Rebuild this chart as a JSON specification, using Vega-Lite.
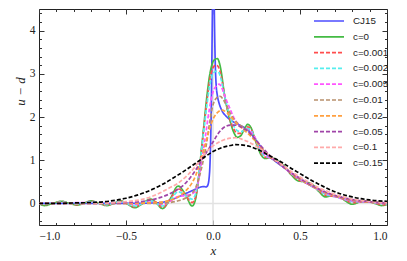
{
"$schema":"https://vega.github.io/schema/vega-lite/v6.json",
"width":348,"height":216,"autosize":"none",
"padding":{"left":39,"top":9,"right":20,"bottom":36},
"config":{"view":{"stroke":"#222","strokeWidth":1},"font":"Liberation Serif"},
"datasets":{"curves":[
{"s":"CJ15","x":-1,"y":0},{"s":"CJ15","x":-0.8,"y":0},{"s":"CJ15","x":-0.6,"y":0},{"s":"CJ15","x":-0.5,"y":0},{"s":"CJ15","x":-0.4,"y":0.005},{"s":"CJ15","x":-0.35,"y":0.01},{"s":"CJ15","x":-0.3,"y":0.02},{"s":"CJ15","x":-0.25,"y":0.07},{"s":"CJ15","x":-0.2,"y":0.15},{"s":"CJ15","x":-0.15,"y":0.24},{"s":"CJ15","x":-0.1,"y":0.33},{"s":"CJ15","x":-0.07,"y":0.38},{"s":"CJ15","x":-0.05,"y":0.39},{"s":"CJ15","x":-0.04,"y":0.38},{"s":"CJ15","x":-0.03,"y":0.42},{"s":"CJ15","x":-0.02,"y":0.7},{"s":"CJ15","x":-0.015,"y":1.2},{"s":"CJ15","x":-0.01,"y":2.2},{"s":"CJ15","x":-0.006,"y":3.5},{"s":"CJ15","x":-0.003,"y":4.6},{"s":"CJ15","x":0.002,"y":5.5},{"s":"CJ15","x":0.007,"y":4.6},{"s":"CJ15","x":0.01,"y":3.8},{"s":"CJ15","x":0.014,"y":3.1},{"s":"CJ15","x":0.018,"y":2.75},{"s":"CJ15","x":0.025,"y":2.5},{"s":"CJ15","x":0.035,"y":2.32},{"s":"CJ15","x":0.05,"y":2.16},{"s":"CJ15","x":0.08,"y":2.0},{"s":"CJ15","x":0.1,"y":1.93},{"s":"CJ15","x":0.15,"y":1.82},{"s":"CJ15","x":0.2,"y":1.7},{"s":"CJ15","x":0.25,"y":1.45},{"s":"CJ15","x":0.3,"y":1.17},{"s":"CJ15","x":0.35,"y":1.0},{"s":"CJ15","x":0.4,"y":0.85},{"s":"CJ15","x":0.45,"y":0.7},{"s":"CJ15","x":0.5,"y":0.56},{"s":"CJ15","x":0.55,"y":0.44},{"s":"CJ15","x":0.6,"y":0.33},{"s":"CJ15","x":0.65,"y":0.24},{"s":"CJ15","x":0.7,"y":0.16},{"s":"CJ15","x":0.75,"y":0.11},{"s":"CJ15","x":0.8,"y":0.07},{"s":"CJ15","x":0.85,"y":0.04},{"s":"CJ15","x":0.9,"y":0.03},{"s":"CJ15","x":0.95,"y":0.02},{"s":"CJ15","x":1,"y":0.01},

{"s":"c=0","x":-1,"y":0},{"s":"c=0","x":-0.97,"y":-0.05},{"s":"c=0","x":-0.92,"y":0},{"s":"c=0","x":-0.87,"y":0.05},{"s":"c=0","x":-0.83,"y":0.01},{"s":"c=0","x":-0.78,"y":-0.04},{"s":"c=0","x":-0.74,"y":0.01},{"s":"c=0","x":-0.7,"y":0.06},{"s":"c=0","x":-0.66,"y":0.01},{"s":"c=0","x":-0.61,"y":-0.05},{"s":"c=0","x":-0.57,"y":0},{"s":"c=0","x":-0.53,"y":0.06},{"s":"c=0","x":-0.49,"y":-0.02},{"s":"c=0","x":-0.45,"y":-0.1},{"s":"c=0","x":-0.41,"y":-0.02},{"s":"c=0","x":-0.36,"y":0.1},{"s":"c=0","x":-0.33,"y":0.03},{"s":"c=0","x":-0.29,"y":-0.12},{"s":"c=0","x":-0.25,"y":0.08},{"s":"c=0","x":-0.2,"y":0.4},{"s":"c=0","x":-0.16,"y":0.22},{"s":"c=0","x":-0.12,"y":-0.06},{"s":"c=0","x":-0.1,"y":0.1},{"s":"c=0","x":-0.09,"y":0.35},{"s":"c=0","x":-0.08,"y":0.7},{"s":"c=0","x":-0.07,"y":1.1},{"s":"c=0","x":-0.06,"y":1.5},{"s":"c=0","x":-0.05,"y":1.9},{"s":"c=0","x":-0.04,"y":2.3},{"s":"c=0","x":-0.03,"y":2.65},{"s":"c=0","x":-0.02,"y":2.95},{"s":"c=0","x":-0.01,"y":3.15},{"s":"c=0","x":0,"y":3.28},{"s":"c=0","x":0.015,"y":3.34},{"s":"c=0","x":0.025,"y":3.35},{"s":"c=0","x":0.04,"y":3.2},{"s":"c=0","x":0.05,"y":2.98},{"s":"c=0","x":0.06,"y":2.68},{"s":"c=0","x":0.07,"y":2.42},{"s":"c=0","x":0.08,"y":2.22},{"s":"c=0","x":0.1,"y":1.88},{"s":"c=0","x":0.12,"y":1.64},{"s":"c=0","x":0.14,"y":1.53},{"s":"c=0","x":0.16,"y":1.57},{"s":"c=0","x":0.18,"y":1.72},{"s":"c=0","x":0.2,"y":1.83},{"s":"c=0","x":0.22,"y":1.74},{"s":"c=0","x":0.24,"y":1.5},{"s":"c=0","x":0.26,"y":1.27},{"s":"c=0","x":0.28,"y":1.1},{"s":"c=0","x":0.3,"y":1.04},{"s":"c=0","x":0.33,"y":1.06},{"s":"c=0","x":0.36,"y":1.02},{"s":"c=0","x":0.4,"y":0.9},{"s":"c=0","x":0.45,"y":0.66},{"s":"c=0","x":0.49,"y":0.52},{"s":"c=0","x":0.53,"y":0.5},{"s":"c=0","x":0.57,"y":0.44},{"s":"c=0","x":0.61,"y":0.27},{"s":"c=0","x":0.645,"y":0.15},{"s":"c=0","x":0.68,"y":0.17},{"s":"c=0","x":0.72,"y":0.17},{"s":"c=0","x":0.76,"y":0.06},{"s":"c=0","x":0.8,"y":-0.02},{"s":"c=0","x":0.84,"y":0.03},{"s":"c=0","x":0.88,"y":0.06},{"s":"c=0","x":0.93,"y":0},{"s":"c=0","x":0.97,"y":-0.05},{"s":"c=0","x":1,"y":-0.03},

{"s":"c=0.001","x":-1,"y":0},{"s":"c=0.001","x":-0.97,"y":-0.03},{"s":"c=0.001","x":-0.92,"y":0},{"s":"c=0.001","x":-0.87,"y":0.04},{"s":"c=0.001","x":-0.83,"y":0.01},{"s":"c=0.001","x":-0.78,"y":-0.03},{"s":"c=0.001","x":-0.74,"y":0.01},{"s":"c=0.001","x":-0.7,"y":0.05},{"s":"c=0.001","x":-0.66,"y":0.01},{"s":"c=0.001","x":-0.61,"y":-0.04},{"s":"c=0.001","x":-0.57,"y":0},{"s":"c=0.001","x":-0.53,"y":0.05},{"s":"c=0.001","x":-0.49,"y":-0.01},{"s":"c=0.001","x":-0.45,"y":-0.08},{"s":"c=0.001","x":-0.41,"y":-0.01},{"s":"c=0.001","x":-0.36,"y":0.08},{"s":"c=0.001","x":-0.33,"y":0.03},{"s":"c=0.001","x":-0.29,"y":-0.09},{"s":"c=0.001","x":-0.25,"y":0.07},{"s":"c=0.001","x":-0.2,"y":0.34},{"s":"c=0.001","x":-0.16,"y":0.2},{"s":"c=0.001","x":-0.12,"y":0.02},{"s":"c=0.001","x":-0.1,"y":0.15},{"s":"c=0.001","x":-0.09,"y":0.38},{"s":"c=0.001","x":-0.08,"y":0.7},{"s":"c=0.001","x":-0.07,"y":1.08},{"s":"c=0.001","x":-0.06,"y":1.46},{"s":"c=0.001","x":-0.05,"y":1.83},{"s":"c=0.001","x":-0.04,"y":2.2},{"s":"c=0.001","x":-0.03,"y":2.53},{"s":"c=0.001","x":-0.02,"y":2.82},{"s":"c=0.001","x":-0.01,"y":3.02},{"s":"c=0.001","x":0,"y":3.14},{"s":"c=0.001","x":0.015,"y":3.2},{"s":"c=0.001","x":0.025,"y":3.19},{"s":"c=0.001","x":0.04,"y":3.06},{"s":"c=0.001","x":0.05,"y":2.88},{"s":"c=0.001","x":0.06,"y":2.64},{"s":"c=0.001","x":0.07,"y":2.42},{"s":"c=0.001","x":0.08,"y":2.23},{"s":"c=0.001","x":0.1,"y":1.92},{"s":"c=0.001","x":0.12,"y":1.72},{"s":"c=0.001","x":0.14,"y":1.62},{"s":"c=0.001","x":0.16,"y":1.62},{"s":"c=0.001","x":0.18,"y":1.7},{"s":"c=0.001","x":0.2,"y":1.77},{"s":"c=0.001","x":0.22,"y":1.71},{"s":"c=0.001","x":0.24,"y":1.52},{"s":"c=0.001","x":0.26,"y":1.3},{"s":"c=0.001","x":0.28,"y":1.14},{"s":"c=0.001","x":0.3,"y":1.07},{"s":"c=0.001","x":0.33,"y":1.05},{"s":"c=0.001","x":0.36,"y":1.0},{"s":"c=0.001","x":0.4,"y":0.88},{"s":"c=0.001","x":0.45,"y":0.68},{"s":"c=0.001","x":0.49,"y":0.55},{"s":"c=0.001","x":0.53,"y":0.48},{"s":"c=0.001","x":0.57,"y":0.42},{"s":"c=0.001","x":0.61,"y":0.29},{"s":"c=0.001","x":0.645,"y":0.19},{"s":"c=0.001","x":0.68,"y":0.17},{"s":"c=0.001","x":0.72,"y":0.15},{"s":"c=0.001","x":0.76,"y":0.08},{"s":"c=0.001","x":0.8,"y":0.02},{"s":"c=0.001","x":0.84,"y":0.03},{"s":"c=0.001","x":0.88,"y":0.05},{"s":"c=0.001","x":0.93,"y":0.01},{"s":"c=0.001","x":0.97,"y":-0.03},{"s":"c=0.001","x":1,"y":-0.02},

{"s":"c=0.002","x":-1,"y":0},{"s":"c=0.002","x":-0.97,"y":-0.02},{"s":"c=0.002","x":-0.87,"y":0.03},{"s":"c=0.002","x":-0.78,"y":-0.02},{"s":"c=0.002","x":-0.7,"y":0.04},{"s":"c=0.002","x":-0.61,"y":-0.03},{"s":"c=0.002","x":-0.53,"y":0.04},{"s":"c=0.002","x":-0.45,"y":-0.06},{"s":"c=0.002","x":-0.36,"y":0.06},{"s":"c=0.002","x":-0.29,"y":-0.06},{"s":"c=0.002","x":-0.25,"y":0.05},{"s":"c=0.002","x":-0.2,"y":0.27},{"s":"c=0.002","x":-0.16,"y":0.19},{"s":"c=0.002","x":-0.12,"y":0.1},{"s":"c=0.002","x":-0.1,"y":0.22},{"s":"c=0.002","x":-0.09,"y":0.42},{"s":"c=0.002","x":-0.08,"y":0.72},{"s":"c=0.002","x":-0.07,"y":1.08},{"s":"c=0.002","x":-0.06,"y":1.44},{"s":"c=0.002","x":-0.05,"y":1.78},{"s":"c=0.002","x":-0.04,"y":2.12},{"s":"c=0.002","x":-0.03,"y":2.43},{"s":"c=0.002","x":-0.02,"y":2.7},{"s":"c=0.002","x":-0.01,"y":2.9},{"s":"c=0.002","x":0,"y":3.0},{"s":"c=0.002","x":0.02,"y":3.06},{"s":"c=0.002","x":0.03,"y":3.05},{"s":"c=0.002","x":0.045,"y":2.9},{"s":"c=0.002","x":0.06,"y":2.62},{"s":"c=0.002","x":0.07,"y":2.43},{"s":"c=0.002","x":0.08,"y":2.26},{"s":"c=0.002","x":0.1,"y":1.98},{"s":"c=0.002","x":0.12,"y":1.79},{"s":"c=0.002","x":0.14,"y":1.68},{"s":"c=0.002","x":0.16,"y":1.66},{"s":"c=0.002","x":0.18,"y":1.69},{"s":"c=0.002","x":0.2,"y":1.73},{"s":"c=0.002","x":0.22,"y":1.68},{"s":"c=0.002","x":0.24,"y":1.53},{"s":"c=0.002","x":0.26,"y":1.33},{"s":"c=0.002","x":0.28,"y":1.17},{"s":"c=0.002","x":0.3,"y":1.09},{"s":"c=0.002","x":0.33,"y":1.05},{"s":"c=0.002","x":0.36,"y":1.0},{"s":"c=0.002","x":0.4,"y":0.87},{"s":"c=0.002","x":0.45,"y":0.69},{"s":"c=0.002","x":0.5,"y":0.55},{"s":"c=0.002","x":0.55,"y":0.44},{"s":"c=0.002","x":0.6,"y":0.32},{"s":"c=0.002","x":0.645,"y":0.21},{"s":"c=0.002","x":0.7,"y":0.16},{"s":"c=0.002","x":0.75,"y":0.1},{"s":"c=0.002","x":0.8,"y":0.04},{"s":"c=0.002","x":0.88,"y":0.04},{"s":"c=0.002","x":0.95,"y":0},{"s":"c=0.002","x":1,"y":-0.01},

{"s":"c=0.005","x":-1,"y":0},{"s":"c=0.005","x":-0.87,"y":0.01},{"s":"c=0.005","x":-0.7,"y":0.02},{"s":"c=0.005","x":-0.53,"y":0.02},{"s":"c=0.005","x":-0.45,"y":-0.02},{"s":"c=0.005","x":-0.36,"y":0.03},{"s":"c=0.005","x":-0.29,"y":-0.02},{"s":"c=0.005","x":-0.25,"y":0.04},{"s":"c=0.005","x":-0.2,"y":0.16},{"s":"c=0.005","x":-0.16,"y":0.18},{"s":"c=0.005","x":-0.12,"y":0.22},{"s":"c=0.005","x":-0.1,"y":0.3},{"s":"c=0.005","x":-0.09,"y":0.4},{"s":"c=0.005","x":-0.08,"y":0.6},{"s":"c=0.005","x":-0.07,"y":0.85},{"s":"c=0.005","x":-0.06,"y":1.1},{"s":"c=0.005","x":-0.05,"y":1.38},{"s":"c=0.005","x":-0.04,"y":1.65},{"s":"c=0.005","x":-0.03,"y":1.95},{"s":"c=0.005","x":-0.02,"y":2.2},{"s":"c=0.005","x":-0.01,"y":2.42},{"s":"c=0.005","x":0,"y":2.58},{"s":"c=0.005","x":0.02,"y":2.72},{"s":"c=0.005","x":0.035,"y":2.76},{"s":"c=0.005","x":0.05,"y":2.68},{"s":"c=0.005","x":0.065,"y":2.52},{"s":"c=0.005","x":0.08,"y":2.36},{"s":"c=0.005","x":0.1,"y":2.17},{"s":"c=0.005","x":0.12,"y":1.98},{"s":"c=0.005","x":0.14,"y":1.86},{"s":"c=0.005","x":0.16,"y":1.78},{"s":"c=0.005","x":0.18,"y":1.74},{"s":"c=0.005","x":0.2,"y":1.7},{"s":"c=0.005","x":0.22,"y":1.64},{"s":"c=0.005","x":0.24,"y":1.53},{"s":"c=0.005","x":0.26,"y":1.38},{"s":"c=0.005","x":0.28,"y":1.23},{"s":"c=0.005","x":0.3,"y":1.12},{"s":"c=0.005","x":0.33,"y":1.05},{"s":"c=0.005","x":0.36,"y":1.0},{"s":"c=0.005","x":0.4,"y":0.86},{"s":"c=0.005","x":0.45,"y":0.69},{"s":"c=0.005","x":0.5,"y":0.56},{"s":"c=0.005","x":0.55,"y":0.44},{"s":"c=0.005","x":0.6,"y":0.33},{"s":"c=0.005","x":0.65,"y":0.23},{"s":"c=0.005","x":0.7,"y":0.16},{"s":"c=0.005","x":0.75,"y":0.1},{"s":"c=0.005","x":0.8,"y":0.06},{"s":"c=0.005","x":0.85,"y":0.04},{"s":"c=0.005","x":0.9,"y":0.03},{"s":"c=0.005","x":0.95,"y":0.01},{"s":"c=0.005","x":1,"y":0},

{"s":"c=0.01","x":-1,"y":0},{"s":"c=0.01","x":-0.6,"y":0},{"s":"c=0.01","x":-0.4,"y":0},{"s":"c=0.01","x":-0.3,"y":0},{"s":"c=0.01","x":-0.25,"y":0.02},{"s":"c=0.01","x":-0.2,"y":0.06},{"s":"c=0.01","x":-0.15,"y":0.14},{"s":"c=0.01","x":-0.12,"y":0.24},{"s":"c=0.01","x":-0.1,"y":0.36},{"s":"c=0.01","x":-0.08,"y":0.6},{"s":"c=0.01","x":-0.06,"y":0.92},{"s":"c=0.01","x":-0.04,"y":1.32},{"s":"c=0.01","x":-0.02,"y":1.85},{"s":"c=0.01","x":-0.01,"y":2.1},{"s":"c=0.01","x":0,"y":2.28},{"s":"c=0.01","x":0.02,"y":2.44},{"s":"c=0.01","x":0.04,"y":2.48},{"s":"c=0.01","x":0.06,"y":2.4},{"s":"c=0.01","x":0.08,"y":2.24},{"s":"c=0.01","x":0.1,"y":2.08},{"s":"c=0.01","x":0.13,"y":1.9},{"s":"c=0.01","x":0.17,"y":1.77},{"s":"c=0.01","x":0.2,"y":1.68},{"s":"c=0.01","x":0.25,"y":1.44},{"s":"c=0.01","x":0.3,"y":1.18},{"s":"c=0.01","x":0.35,"y":1.01},{"s":"c=0.01","x":0.4,"y":0.86},{"s":"c=0.01","x":0.45,"y":0.7},{"s":"c=0.01","x":0.5,"y":0.56},{"s":"c=0.01","x":0.55,"y":0.44},{"s":"c=0.01","x":0.6,"y":0.33},{"s":"c=0.01","x":0.65,"y":0.24},{"s":"c=0.01","x":0.7,"y":0.17},{"s":"c=0.01","x":0.75,"y":0.11},{"s":"c=0.01","x":0.8,"y":0.07},{"s":"c=0.01","x":0.85,"y":0.05},{"s":"c=0.01","x":0.9,"y":0.03},{"s":"c=0.01","x":0.95,"y":0.02},{"s":"c=0.01","x":1,"y":0.01},

{"s":"c=0.02","x":-1,"y":0},{"s":"c=0.02","x":-0.5,"y":0},{"s":"c=0.02","x":-0.4,"y":0.01},{"s":"c=0.02","x":-0.3,"y":0.03},{"s":"c=0.02","x":-0.25,"y":0.07},{"s":"c=0.02","x":-0.2,"y":0.15},{"s":"c=0.02","x":-0.15,"y":0.32},{"s":"c=0.02","x":-0.12,"y":0.48},{"s":"c=0.02","x":-0.1,"y":0.64},{"s":"c=0.02","x":-0.08,"y":0.88},{"s":"c=0.02","x":-0.05,"y":1.28},{"s":"c=0.02","x":-0.02,"y":1.72},{"s":"c=0.02","x":0,"y":1.95},{"s":"c=0.02","x":0.02,"y":2.08},{"s":"c=0.02","x":0.05,"y":2.16},{"s":"c=0.02","x":0.08,"y":2.1},{"s":"c=0.02","x":0.1,"y":2.02},{"s":"c=0.02","x":0.13,"y":1.87},{"s":"c=0.02","x":0.17,"y":1.73},{"s":"c=0.02","x":0.2,"y":1.62},{"s":"c=0.02","x":0.25,"y":1.42},{"s":"c=0.02","x":0.3,"y":1.2},{"s":"c=0.02","x":0.35,"y":1.02},{"s":"c=0.02","x":0.4,"y":0.86},{"s":"c=0.02","x":0.45,"y":0.71},{"s":"c=0.02","x":0.5,"y":0.57},{"s":"c=0.02","x":0.55,"y":0.45},{"s":"c=0.02","x":0.6,"y":0.34},{"s":"c=0.02","x":0.65,"y":0.25},{"s":"c=0.02","x":0.7,"y":0.18},{"s":"c=0.02","x":0.75,"y":0.12},{"s":"c=0.02","x":0.8,"y":0.08},{"s":"c=0.02","x":0.85,"y":0.05},{"s":"c=0.02","x":0.9,"y":0.03},{"s":"c=0.02","x":0.95,"y":0.02},{"s":"c=0.02","x":1,"y":0.01},

{"s":"c=0.05","x":-1,"y":0},{"s":"c=0.05","x":-0.6,"y":0},{"s":"c=0.05","x":-0.5,"y":0.02},{"s":"c=0.05","x":-0.4,"y":0.05},{"s":"c=0.05","x":-0.3,"y":0.14},{"s":"c=0.05","x":-0.25,"y":0.22},{"s":"c=0.05","x":-0.2,"y":0.33},{"s":"c=0.05","x":-0.15,"y":0.5},{"s":"c=0.05","x":-0.1,"y":0.77},{"s":"c=0.05","x":-0.05,"y":1.1},{"s":"c=0.05","x":0,"y":1.42},{"s":"c=0.05","x":0.03,"y":1.62},{"s":"c=0.05","x":0.06,"y":1.75},{"s":"c=0.05","x":0.1,"y":1.81},{"s":"c=0.05","x":0.13,"y":1.81},{"s":"c=0.05","x":0.17,"y":1.75},{"s":"c=0.05","x":0.2,"y":1.67},{"s":"c=0.05","x":0.25,"y":1.45},{"s":"c=0.05","x":0.3,"y":1.22},{"s":"c=0.05","x":0.35,"y":1.02},{"s":"c=0.05","x":0.4,"y":0.86},{"s":"c=0.05","x":0.45,"y":0.71},{"s":"c=0.05","x":0.5,"y":0.58},{"s":"c=0.05","x":0.55,"y":0.46},{"s":"c=0.05","x":0.6,"y":0.35},{"s":"c=0.05","x":0.65,"y":0.26},{"s":"c=0.05","x":0.7,"y":0.19},{"s":"c=0.05","x":0.75,"y":0.13},{"s":"c=0.05","x":0.8,"y":0.09},{"s":"c=0.05","x":0.85,"y":0.06},{"s":"c=0.05","x":0.9,"y":0.04},{"s":"c=0.05","x":0.95,"y":0.02},{"s":"c=0.05","x":1,"y":0.01},

{"s":"c=0.1","x":-1,"y":0},{"s":"c=0.1","x":-0.7,"y":0},{"s":"c=0.1","x":-0.6,"y":0.01},{"s":"c=0.1","x":-0.5,"y":0.04},{"s":"c=0.1","x":-0.4,"y":0.1},{"s":"c=0.1","x":-0.3,"y":0.25},{"s":"c=0.1","x":-0.25,"y":0.36},{"s":"c=0.1","x":-0.2,"y":0.47},{"s":"c=0.1","x":-0.15,"y":0.64},{"s":"c=0.1","x":-0.1,"y":0.86},{"s":"c=0.1","x":-0.05,"y":1.14},{"s":"c=0.1","x":0,"y":1.33},{"s":"c=0.1","x":0.05,"y":1.45},{"s":"c=0.1","x":0.1,"y":1.51},{"s":"c=0.1","x":0.13,"y":1.52},{"s":"c=0.1","x":0.17,"y":1.48},{"s":"c=0.1","x":0.2,"y":1.43},{"s":"c=0.1","x":0.25,"y":1.32},{"s":"c=0.1","x":0.3,"y":1.18},{"s":"c=0.1","x":0.35,"y":1.03},{"s":"c=0.1","x":0.4,"y":0.89},{"s":"c=0.1","x":0.45,"y":0.74},{"s":"c=0.1","x":0.5,"y":0.61},{"s":"c=0.1","x":0.55,"y":0.49},{"s":"c=0.1","x":0.6,"y":0.38},{"s":"c=0.1","x":0.65,"y":0.29},{"s":"c=0.1","x":0.7,"y":0.21},{"s":"c=0.1","x":0.75,"y":0.15},{"s":"c=0.1","x":0.8,"y":0.1},{"s":"c=0.1","x":0.85,"y":0.07},{"s":"c=0.1","x":0.9,"y":0.05},{"s":"c=0.1","x":0.95,"y":0.03},{"s":"c=0.1","x":1,"y":0.02},

{"s":"c=0.15","x":-1,"y":0},{"s":"c=0.15","x":-0.9,"y":0},{"s":"c=0.15","x":-0.8,"y":0.01},{"s":"c=0.15","x":-0.7,"y":0.02},{"s":"c=0.15","x":-0.6,"y":0.05},{"s":"c=0.15","x":-0.5,"y":0.12},{"s":"c=0.15","x":-0.4,"y":0.24},{"s":"c=0.15","x":-0.3,"y":0.42},{"s":"c=0.15","x":-0.2,"y":0.66},{"s":"c=0.15","x":-0.15,"y":0.79},{"s":"c=0.15","x":-0.1,"y":0.93},{"s":"c=0.15","x":-0.05,"y":1.07},{"s":"c=0.15","x":0,"y":1.2},{"s":"c=0.15","x":0.05,"y":1.29},{"s":"c=0.15","x":0.1,"y":1.34},{"s":"c=0.15","x":0.13,"y":1.36},{"s":"c=0.15","x":0.2,"y":1.33},{"s":"c=0.15","x":0.25,"y":1.26},{"s":"c=0.15","x":0.3,"y":1.16},{"s":"c=0.15","x":0.35,"y":1.05},{"s":"c=0.15","x":0.4,"y":0.94},{"s":"c=0.15","x":0.45,"y":0.81},{"s":"c=0.15","x":0.5,"y":0.69},{"s":"c=0.15","x":0.55,"y":0.57},{"s":"c=0.15","x":0.6,"y":0.46},{"s":"c=0.15","x":0.65,"y":0.36},{"s":"c=0.15","x":0.7,"y":0.27},{"s":"c=0.15","x":0.75,"y":0.2},{"s":"c=0.15","x":0.8,"y":0.15},{"s":"c=0.15","x":0.85,"y":0.11},{"s":"c=0.15","x":0.9,"y":0.08},{"s":"c=0.15","x":0.95,"y":0.06},{"s":"c=0.15","x":1,"y":0.05}
]},
"layer":[
{"data":{"values":[{"v":0}]},"mark":{"type":"rule","color":"#e2e2e2","strokeWidth":1.5},
 "encoding":{"x":{"field":"v","type":"quantitative","scale":{"domain":[-1,1],"nice":false},
  "axis":{"orient":"top","values":[-1,-0.9,-0.8,-0.7,-0.6,-0.5,-0.4,-0.3,-0.2,-0.1,0,0.1,0.2,0.3,0.4,0.5,0.6,0.7,0.8,0.9,1],"labels":false,"domain":false,"grid":false,"title":null,"tickColor":"#333","tickSize":{"condition":{"test":"abs(datum.value*2-round(datum.value*2))<1e-6","value":-5},"value":-2.5}}}}},
{"data":{"values":[{"v":0}]},"mark":{"type":"rule","color":"#e2e2e2","strokeWidth":1.5},
 "encoding":{"y":{"field":"v","type":"quantitative","scale":{"domain":[-0.5,4.5],"nice":false},
  "axis":{"orient":"right","values":[-0.4,-0.2,0,0.2,0.4,0.6,0.8,1,1.2,1.4,1.6,1.8,2,2.2,2.4,2.6,2.8,3,3.2,3.4,3.6,3.8,4,4.2,4.4],"labels":false,"domain":false,"grid":false,"title":null,"tickColor":"#333","tickSize":{"condition":{"test":"abs(datum.value-round(datum.value))<1e-6","value":-5},"value":-2.5}}}}},
{"data":{"name":"curves"},"mark":{"type":"line","clip":true,"strokeWidth":1.7,"interpolate":"monotone"},
 "encoding":{
  "x":{"field":"x","type":"quantitative","scale":{"domain":[-1,1],"nice":false},
   "axis":{"orient":"bottom","values":[-1,-0.9,-0.8,-0.7,-0.6,-0.5,-0.4,-0.3,-0.2,-0.1,0,0.1,0.2,0.3,0.4,0.5,0.6,0.7,0.8,0.9,1],"labelExpr":"abs(datum.value*2-round(datum.value*2))<1e-6 ? format(datum.value,'.1f') : ''","domain":false,"grid":false,"title":"x","titleFont":"Liberation Serif","titleFontStyle":"italic","titleFontWeight":"normal","titleFontSize":13,"titleColor":"#222","titlePadding":3,"labelFont":"Liberation Serif","labelFontSize":11.5,"labelColor":"#222","labelPadding":10,"tickColor":"#333","tickSize":{"condition":{"test":"abs(datum.value*2-round(datum.value*2))<1e-6","value":-5},"value":-2.5}}},
  "y":{"field":"y","type":"quantitative","scale":{"domain":[-0.5,4.5],"nice":false},
   "axis":{"orient":"left","values":[-0.4,-0.2,0,0.2,0.4,0.6,0.8,1,1.2,1.4,1.6,1.8,2,2.2,2.4,2.6,2.8,3,3.2,3.4,3.6,3.8,4,4.2,4.4],"labelExpr":"abs(datum.value-round(datum.value))<1e-6 ? format(datum.value,'d') : ''","domain":false,"grid":false,"title":"u − d","titleFont":"Liberation Serif","titleFontStyle":"italic","titleFontWeight":"normal","titleFontSize":13,"titleColor":"#222","titleX":-12,"titleY":82,"titleAlign":"center","titleBaseline":"bottom","labelFont":"Liberation Serif","labelFontSize":11.5,"labelColor":"#222","labelPadding":9,"tickColor":"#333","tickSize":{"condition":{"test":"abs(datum.value-round(datum.value))<1e-6","value":-5},"value":-2.5}}},
  "color":{"field":"s","type":"nominal","sort":null,
   "scale":{"domain":["CJ15","c=0","c=0.001","c=0.002","c=0.005","c=0.01","c=0.02","c=0.05","c=0.1","c=0.15"],
    "range":["#4d4dff","#44bb44","#ff4d4d","#55eeee","#ff55ff","#b8906c","#ffa040","#a044a8","#ffaaaa","#000000"]},
   "legend":{"orient":"none","legendX":274,"legendY":6,"title":null,"symbolType":"stroke","symbolSize":900,"symbolStrokeWidth":1.7,"labelFont":"Liberation Sans","labelFontSize":9.8,"labelColor":"#222","clipHeight":12,"rowPadding":3.8,"labelOffset":8,"padding":0}},
  "strokeDash":{"field":"s","type":"nominal","sort":null,
   "scale":{"domain":["CJ15","c=0","c=0.001","c=0.002","c=0.005","c=0.01","c=0.02","c=0.05","c=0.1","c=0.15"],
    "range":[[1,0],[1,0],[4,2],[4,2],[4,2],[4,2],[4,2],[4,2],[4,2],[4,2]]},
   "legend":{"orient":"none","legendX":274,"legendY":6,"title":null,"symbolType":"stroke","symbolSize":900,"symbolStrokeWidth":1.7,"labelFont":"Liberation Sans","labelFontSize":9.8,"labelColor":"#222","clipHeight":12,"rowPadding":3.8,"labelOffset":8,"padding":0}}
 }}
],
"resolve":{"axis":{"x":"independent","y":"independent"}}
}
